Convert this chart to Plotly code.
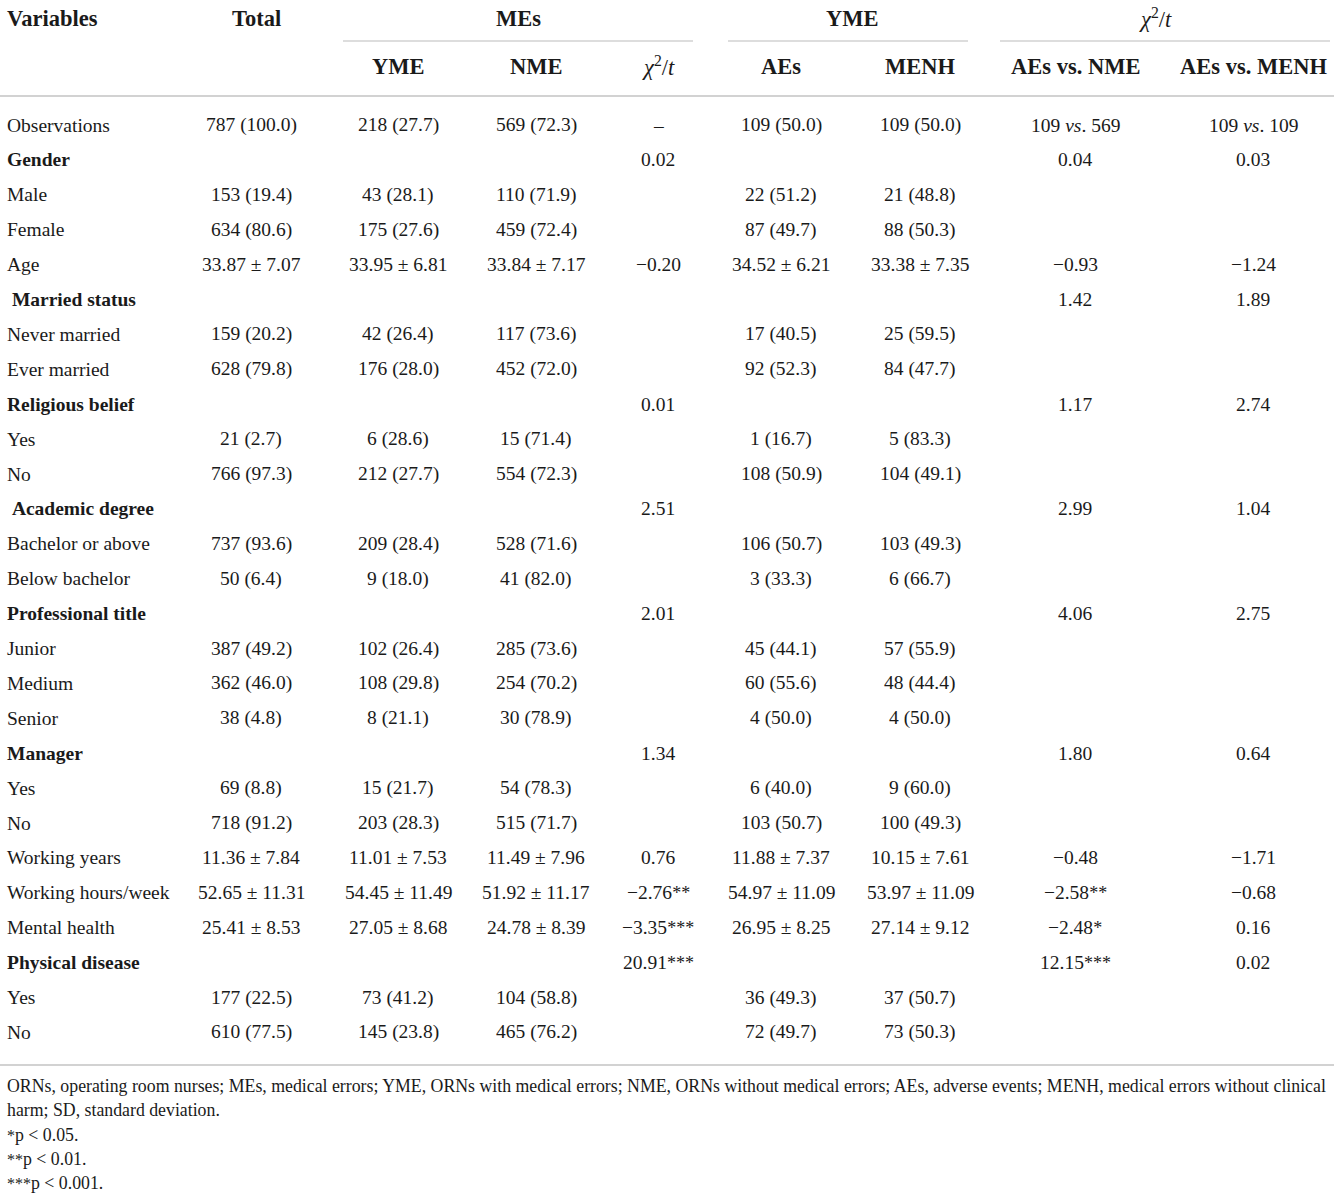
import plotly.graph_objects as go

# table content, one list per column
variables = ["Observations", "Gender", "Male", "Female", "Age", " Married status",
             "Never married", "Ever married", "Religious belief", "Yes", "No",
             " Academic degree", "Bachelor or above", "Below bachelor", "Professional title",
             "Junior", "Medium", "Senior", "Manager", "Yes", "No", "Working years",
             "Working hours/week", "Mental health", "Physical disease", "Yes", "No"]
is_group = [False, True, False, False, False, True, False, False, True, False, False,
            True, False, False, True, False, False, False, True, False, False, False,
            False, False, True, False, False]
total = ["787 (100.0)", "", "153 (19.4)", "634 (80.6)", "33.87 ± 7.07", "", "159 (20.2)",
         "628 (79.8)", "", "21 (2.7)", "766 (97.3)", "", "737 (93.6)", "50 (6.4)", "",
         "387 (49.2)", "362 (46.0)", "38 (4.8)", "", "69 (8.8)", "718 (91.2)",
         "11.36 ± 7.84", "52.65 ± 11.31", "25.41 ± 8.53", "", "177 (22.5)", "610 (77.5)"]
yme = ["218 (27.7)", "", "43 (28.1)", "175 (27.6)", "33.95 ± 6.81", "", "42 (26.4)",
       "176 (28.0)", "", "6 (28.6)", "212 (27.7)", "", "209 (28.4)", "9 (18.0)", "",
       "102 (26.4)", "108 (29.8)", "8 (21.1)", "", "15 (21.7)", "203 (28.3)",
       "11.01 ± 7.53", "54.45 ± 11.49", "27.05 ± 8.68", "", "73 (41.2)", "145 (23.8)"]
nme = ["569 (72.3)", "", "110 (71.9)", "459 (72.4)", "33.84 ± 7.17", "", "117 (73.6)",
       "452 (72.0)", "", "15 (71.4)", "554 (72.3)", "", "528 (71.6)", "41 (82.0)", "",
       "285 (73.6)", "254 (70.2)", "30 (78.9)", "", "54 (78.3)", "515 (71.7)",
       "11.49 ± 7.96", "51.92 ± 11.17", "24.78 ± 8.39", "", "104 (58.8)", "465 (76.2)"]
chi_mes = ["–", "0.02", "", "", "−0.20", "", "", "", "0.01", "", "", "2.51", "", "",
           "2.01", "", "", "", "1.34", "", "", "0.76", "−2.76**",
           "−3.35***", "20.91***", "", ""]
aes = ["109 (50.0)", "", "22 (51.2)", "87 (49.7)", "34.52 ± 6.21", "", "17 (40.5)",
       "92 (52.3)", "", "1 (16.7)", "108 (50.9)", "", "106 (50.7)", "3 (33.3)", "",
       "45 (44.1)", "60 (55.6)", "4 (50.0)", "", "6 (40.0)", "103 (50.7)",
       "11.88 ± 7.37", "54.97 ± 11.09", "26.95 ± 8.25", "", "36 (49.3)", "72 (49.7)"]
menh = ["109 (50.0)", "", "21 (48.8)", "88 (50.3)", "33.38 ± 7.35", "", "25 (59.5)",
        "84 (47.7)", "", "5 (83.3)", "104 (49.1)", "", "103 (49.3)", "6 (66.7)", "",
        "57 (55.9)", "48 (44.4)", "4 (50.0)", "", "9 (60.0)", "100 (49.3)",
        "10.15 ± 7.61", "53.97 ± 11.09", "27.14 ± 9.12", "", "37 (50.7)", "73 (50.3)"]
aes_vs_nme = ["109 <i>vs</i>. 569", "0.04", "", "", "−0.93", "1.42", "", "", "1.17", "", "",
              "2.99", "", "", "4.06", "", "", "", "1.80", "", "", "−0.48",
              "−2.58**", "−2.48*", "12.15***", "", ""]
aes_vs_menh = ["109 <i>vs</i>. 109", "0.03", "", "", "−1.24", "1.89", "", "", "2.74", "", "",
               "1.04", "", "", "2.75", "", "", "", "0.64", "", "", "−1.71", "−0.68",
               "0.16", "0.02", "", ""]

chi = "<i>χ</i><sup>2</sup>/<i>t</i>"
group_headers = ["MEs", "YME", chi]
sub_headers = ["YME", "NME", chi, "AEs", "MENH", "AEs vs. NME", "AEs vs. MENH"]
footnotes = [
    "ORNs, operating room nurses; MEs, medical errors; YME, ORNs with medical errors; NME, "
    "ORNs without medical errors; AEs, adverse events; MENH, medical errors without clinical",
    "harm; SD, standard deviation.",
    "*p < 0.05.",
    "**p < 0.01.",
    "***p < 0.001.",
]

# layout (pixel coordinates on hidden axes)
W, H = 1334, 1200
FONT = "Liberation Serif"
INK = "#1a1a1a"
RULE = "#d2d2d2"
col_x = [251, 398, 536, 658, 781, 920, 1075, 1253]
group_x = [518, 852, 1155]
group_spans = [(343, 693), (728, 968), (1000, 1330)]
row_y0, row_dy = 125, 34.9
BODY, HEAD, NOTE = 19.5, 22.5, 17.8


def stars(text, size):
    # significance asterisks drawn a little smaller than the digits
    core = text.strip("*")
    n = len(text) - len(core)
    if n == 0:
        return text
    mark = '<span style="font-size:%dpx">%s</span>' % (size, "*" * n)
    return mark + core if text.startswith("*") else core + mark


columns = [total, yme, nme, chi_mes, aes, menh, aes_vs_nme, aes_vs_menh]

fig = go.Figure()
ann = []

def add(text, x, y, size=BODY, anchor="center", bold=False):
    if bold:
        text = "<b>" + text + "</b>"
    ann.append(dict(text=text, x=x, y=y, xref="x", yref="y", showarrow=False,
                    xanchor=anchor, yanchor="middle",
                    font=dict(family=FONT, size=size, color=INK)))

# header
add("Variables", 5, 18, size=HEAD, anchor="left", bold=True)
add("Total", 256, 18, size=HEAD, bold=True)
for t, x in zip(group_headers, group_x):
    add(t, x, 18, size=HEAD, bold=(t != chi))
for t, x in zip(sub_headers, col_x[1:]):
    add(t, x, 66, size=HEAD, bold=(t != chi))

# body
for i, name in enumerate(variables):
    y = row_y0 + i * row_dy
    add(name.replace(" ", "&nbsp;", 1) if name.startswith(" ") else name,
        5, y, anchor="left", bold=is_group[i])
    for col, x in zip(columns, col_x):
        if col[i]:
            add(stars(col[i], 18), x, y)

# footnotes
for j, t in enumerate(footnotes):
    add(stars(t, 16), 5, 1086 + j * 24.3, size=NOTE, anchor="left")

shapes = []
for x0, x1 in group_spans:
    shapes.append(dict(type="line", xref="x", yref="y", x0=x0, x1=x1, y0=41, y1=41,
                       line=dict(color=RULE, width=1.5)))
for yy in (96, 1065):
    shapes.append(dict(type="line", xref="x", yref="y", x0=0, x1=W, y0=yy, y1=yy,
                       line=dict(color=RULE, width=1.8)))

fig.update_layout(
    width=W, height=H,
    margin=dict(l=0, r=0, t=0, b=0),
    paper_bgcolor="white", plot_bgcolor="white",
    xaxis=dict(range=[0, W], visible=False, fixedrange=True),
    yaxis=dict(range=[H, 0], visible=False, fixedrange=True),
    annotations=ann, shapes=shapes, showlegend=False,
)

fig.write_html("out.html", config={"displayModeBar": False},
               post_script="document.body.style.margin='0px';")
